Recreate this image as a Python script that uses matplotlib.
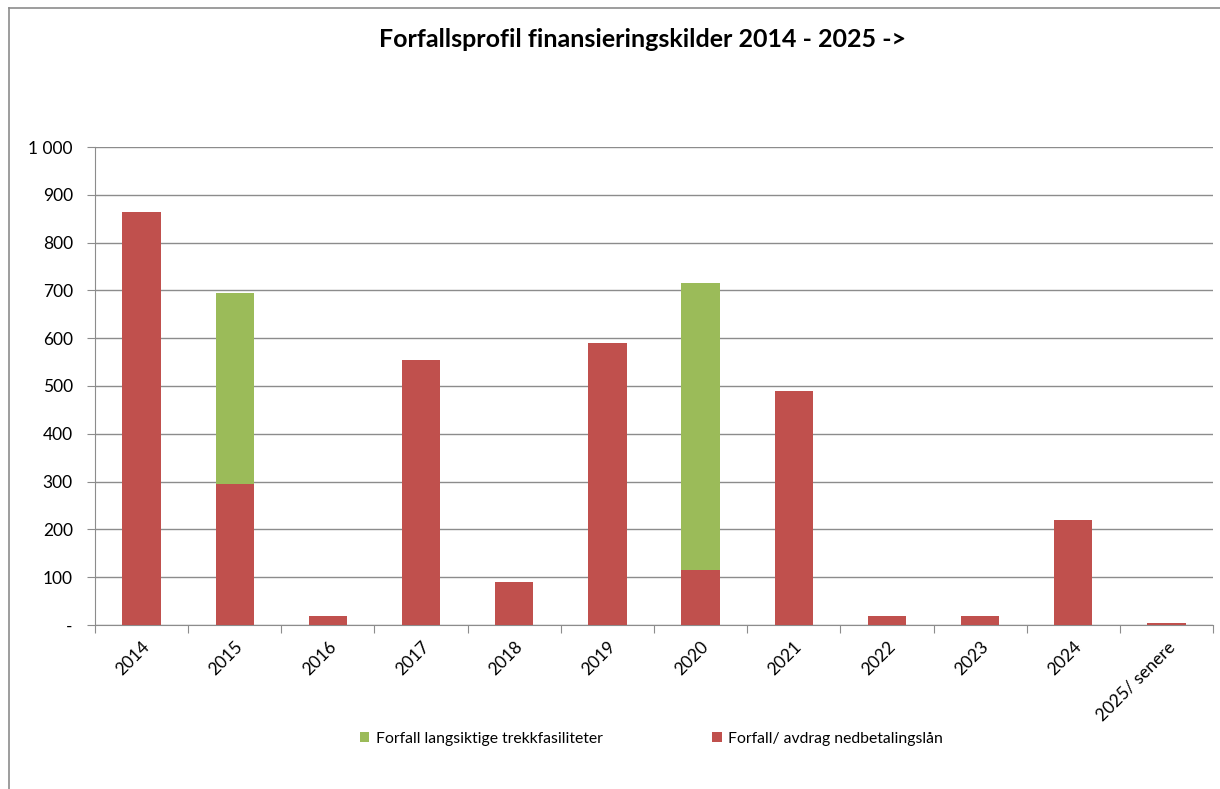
import matplotlib.pyplot as plt
from matplotlib.ticker import FuncFormatter, FixedLocator
from matplotlib.lines import Line2D
import numpy as np

plt.rcParams['font.family'] = ['Lato', 'DejaVu Sans']

# data (MNOK)
years = ['2014', '2015', '2016', '2017', '2018', '2019', '2020',
         '2021', '2022', '2023', '2024', '2025/ senere']
nedbetalingslan = [865, 295, 18, 554, 90, 590, 115, 490, 18, 18, 220, 5]
trekkfasiliteter = [0, 400, 0, 0, 0, 0, 600, 0, 0, 0, 0, 0]

red = '#C0504D'
green = '#9BBB59'
grid_col = '#8C8C8C'

fig = plt.figure(figsize=(12.2, 7.89), dpi=100)
ax = fig.add_axes([95/1220, 1 - 625/789, (1213 - 95)/1220, (625 - 147)/789])

x = np.arange(len(years))
ax.bar(x, nedbetalingslan, width=0.41, color=red, zorder=3,
       label='Forfall/ avdrag nedbetalingslån')
ax.bar(x, trekkfasiliteter, width=0.41, bottom=nedbetalingslan, color=green,
       zorder=3, label='Forfall langsiktige trekkfasiliteter')

ax.set_xlim(-0.5, len(years) - 0.5)
ax.set_ylim(0, 1000)
ax.set_yticks(np.arange(0, 1001, 100))

def fmt(v, pos):
    if v == 0:
        return '-'
    if v >= 1000:
        return '{:,.0f}'.format(v).replace(',', ' ')
    return '%d' % v

ax.yaxis.set_major_formatter(FuncFormatter(fmt))
ax.yaxis.grid(True, color=grid_col, linewidth=1, zorder=0)

# x ticks at category boundaries, labels centred on bars
ax.xaxis.set_major_locator(FixedLocator(np.arange(-0.5, len(years), 1)))
ax.xaxis.set_minor_locator(FixedLocator(x))
ax.set_xticklabels([])
ax.set_xticklabels(years, minor=True, rotation=45, ha='right',
                   rotation_mode='anchor', fontsize=12.5)
ax.tick_params(axis='x', which='major', length=6, color=grid_col, direction='out')
ax.tick_params(axis='x', which='minor', length=0, pad=10)
ax.tick_params(axis='y', length=6, color=grid_col, labelsize=12.5, pad=10)

for s in ['top', 'right']:
    ax.spines[s].set_visible(False)
ax.spines['left'].set_color(grid_col)
ax.spines['bottom'].set_color(grid_col)

fig.suptitle('Forfallsprofil finansieringskilder 2014 - 2025 ->',
             fontsize=18, fontweight='bold', x=0.527, y=0.965)

h, l = ax.get_legend_handles_labels()
fig.legend(h[::-1], l[::-1], loc='center', bbox_to_anchor=(0.534, 0.064),
           ncol=2, frameon=False, fontsize=11.3, handlelength=0.6,
           handleheight=0.6, handletextpad=0.4, columnspacing=7)

# chart area border (left and top edges)
fig.add_artist(Line2D([9/1220, 9/1220], [0, 1 - 8/789], color='#8C8C8C',
                      linewidth=1.2, transform=fig.transFigure))
fig.add_artist(Line2D([9/1220, 1], [1 - 8/789, 1 - 8/789], color='#8C8C8C',
                      linewidth=1.2, transform=fig.transFigure))

fig.savefig('out.png', dpi=100)
